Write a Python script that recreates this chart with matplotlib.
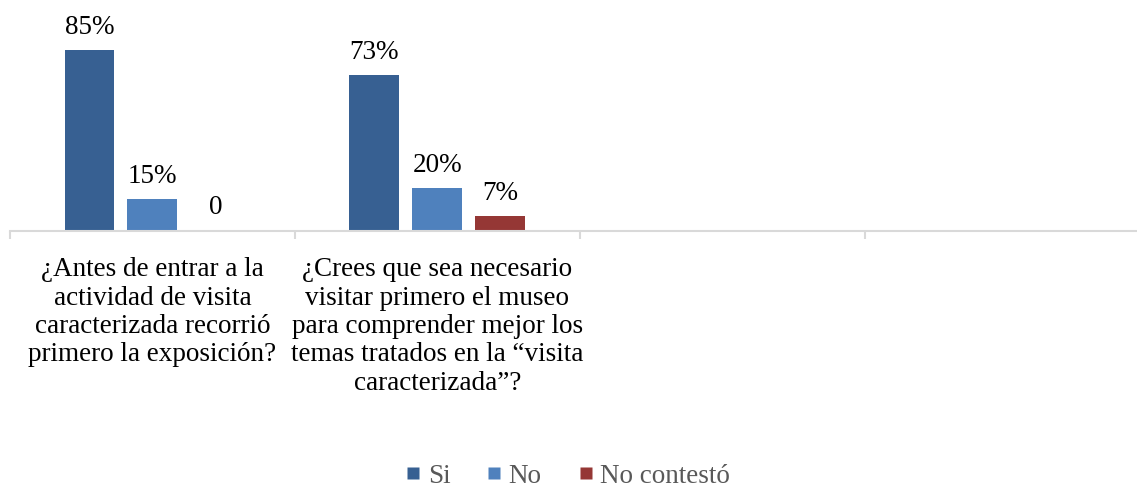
import numpy as np
import matplotlib
matplotlib.use("Agg")
import matplotlib.pyplot as plt
from matplotlib.lines import Line2D

plt.rcParams['font.family'] = ['Liberation Serif', 'DejaVu Serif']

categories = [
    "¿Antes de entrar a la\nactividad de visita\ncaracterizada recorrió\nprimero la exposición?",
    "¿Crees que sea necesario\nvisitar primero el museo\npara comprender mejor los\ntemas tratados en la “visita\ncaracterizada”?",
    "",
    "",
]
series_names = ["Si", "No", "No contestó"]
si = [85, 73, np.nan, np.nan]
no = [15, 20, np.nan, np.nan]
no_contesto = [0, 7, np.nan, np.nan]
colors = ["#376092", "#4F81BD", "#953735"]

W, H = 1137, 489
fig = plt.figure(figsize=(W / 100, H / 100), dpi=100)
# axes spans category boundaries at x=10..1150 px, baseline at y=231 px
ax = fig.add_axes([10 / W, (H - 231.5) / H, 1140 / W, 231.5 / H])

x = np.arange(len(categories))
bar_w = 50 / 285
step = 63 / 285
for i, (name, vals, col) in enumerate(zip(series_names, [si, no, no_contesto], colors)):
    pos = x + (i - 1) * step
    ax.bar(pos, vals, width=bar_w, color=col, edgecolor="none", label=name, zorder=2)
    for p, v in zip(pos, vals):
        if np.isnan(v):
            continue
        lbl = f"{v:g}%" if v else "0"
        ax.annotate(lbl, (p, v), xytext=(0, 8), textcoords="offset points",
                    ha="center", va="bottom", fontsize=19.5, color="black")

ax.set_xlim(-0.5, len(categories) - 0.5)
ax.set_ylim(0, 109)

for s in ["top", "right", "left"]:
    ax.spines[s].set_visible(False)
ax.spines["bottom"].set_color("#D9D9D9")
ax.spines["bottom"].set_linewidth(1.5)
ax.set_yticks([])

ax.set_xticks(x)
ax.set_xticklabels(categories, fontsize=19.5, linespacing=1.18, color="black")
ax.tick_params(axis="x", which="major", length=0, pad=18.5)
ax.set_xticks(np.arange(-0.5, len(categories)), minor=True)
ax.tick_params(axis="x", which="minor", length=5.5, width=1.5, color="#D9D9D9")

handles = [Line2D([], [], marker="s", linestyle="none", markersize=8.5,
                  markerfacecolor=c, markeredgecolor="none") for c in colors]
fig.legend(handles, series_names, loc="center", bbox_to_anchor=(0.5, 1 - 477 / H),
           ncol=3, frameon=False, fontsize=19.5, handlelength=0.45, handletextpad=0.3,
           columnspacing=1.4, labelcolor="#595959", borderpad=0)

fig.savefig("out.png", dpi=100)
